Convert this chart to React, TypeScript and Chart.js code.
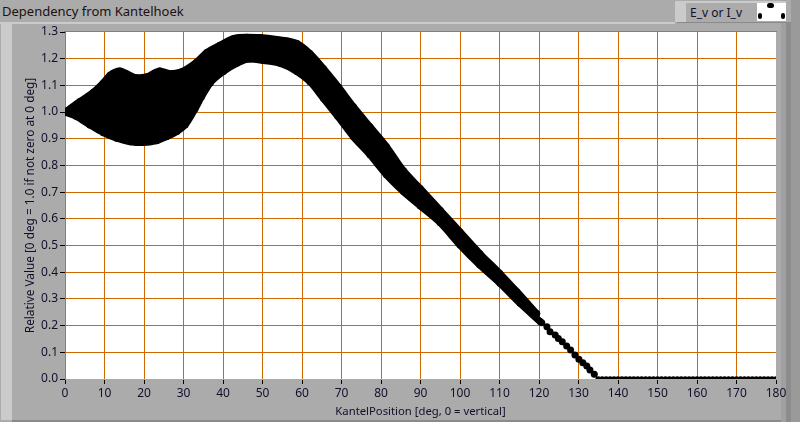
import React, { useEffect, useRef } from "react";
import { Chart, registerables } from "chart.js";

Chart.register(...registerables);

const titleText = "Dependency from Kantelhoek";
const legendText = "E_v or I_v";
const xAxisTitle = "KantelPosition [deg, 0 = vertical]";
const yAxisTitle = "Relative Value [0 deg = 1.0 if not zero at 0 deg]";

const upperDeg = [0, 3.8, 7.2, 9.7, 11.4, 13.9, 15.6, 18.1, 20.7, 24, 26.6, 29.1, 33.3, 35.9, 39.2, 42.6, 46, 49.4, 53.6, 58.7, 62, 65.4, 69.2, 73, 77.2, 81.4, 85.7, 89.9, 95, 100, 105, 110.1, 114.4, 119.4];
const upperVal = [1.0, 1.04, 1.074, 1.109, 1.138, 1.154, 1.144, 1.129, 1.132, 1.154, 1.144, 1.149, 1.187, 1.223, 1.25, 1.275, 1.28, 1.279, 1.272, 1.257, 1.219, 1.163, 1.094, 1.02, 0.945, 0.87, 0.78, 0.714, 0.632, 0.551, 0.47, 0.395, 0.327, 0.245];
const lowerDeg = [0, 2.96, 6.3, 9.7, 13.1, 16.5, 19.8, 23.2, 25.7, 28.3, 30.4, 32.9, 34.6, 36.7, 40.1, 43.5, 46.8, 50.2, 54.4, 58.7, 62, 65.4, 69, 73, 77.2, 81.4, 85.7, 89.9, 95, 100, 105, 110.1, 115.2, 120.3];
const lowerVal = [1.0, 0.983, 0.952, 0.923, 0.902, 0.889, 0.886, 0.893, 0.908, 0.927, 0.952, 1.012, 1.058, 1.108, 1.152, 1.183, 1.199, 1.193, 1.183, 1.152, 1.114, 1.052, 0.985, 0.908, 0.84, 0.765, 0.702, 0.649, 0.585, 0.502, 0.427, 0.359, 0.284, 0.215];
const endDeg = [120.7, 122, 122.8, 124.1, 124.9, 125.9, 127, 128, 129.1, 130.1, 131.1, 132.1, 132.9, 134];
const endVal = [0.211, 0.196, 0.177, 0.165, 0.152, 0.14, 0.124, 0.109, 0.09, 0.074, 0.061, 0.049, 0.034, 0.018];
const zeroDeg = [135, 136, 137, 138, 139, 140, 141, 142, 143, 144, 145, 146, 147, 148, 149, 150, 151, 152, 153, 154, 155, 156, 157, 158, 159, 160, 161, 162, 163, 164, 165, 166, 167, 168, 169, 170, 171, 172, 173, 174, 175, 176, 177, 178, 179, 180];

const xy = (xs: number[], ys: number[]) => xs.map((x, i) => ({ x, y: ys[i] }));
const uiFont = "'Noto Sans', sans-serif";
const orange = "#cc6a00";
const inkColor = "#10102a";

// The reference has no orange line on the plot's outer edges.
const innerGrid = (max: number) => (ctx: any) => {
  const v = ctx.tick ? ctx.tick.value : 0;
  return v <= 0 || v >= max - 1e-6 ? "rgba(0,0,0,0)" : orange;
};

function Box(p: { l: number; t: number; w: number; h: number; c: string; r?: number }) {
  return <div style={{ position: "absolute", left: p.l, top: p.t, width: p.w, height: p.h, background: p.c, borderRadius: p.r }} />;
}

export default function App() {
  const ref = useRef<HTMLCanvasElement>(null);
  useEffect(() => {
    document.body.style.margin = "0";
    const band = { borderColor: "#000", backgroundColor: "#000", borderWidth: 7, borderCapStyle: "round", borderJoinStyle: "round", pointRadius: 3.5, pointBackgroundColor: "#000", pointBorderWidth: 0, cubicInterpolationMode: "monotone" };
    const chart = new Chart(ref.current!, {
      type: "line",
      data: {
        datasets: [
          { label: "upper", data: xy(upperDeg, upperVal), ...band, fill: 1 },
          { label: "lower", data: xy(lowerDeg, lowerVal), ...band, fill: false },
          { label: "end", data: xy(endDeg, endVal), showLine: false, pointRadius: 3.5, pointBackgroundColor: "#000", pointBorderWidth: 0 },
          { label: "zero", data: zeroDeg.map((x) => ({ x, y: 0 })), showLine: false, pointRadius: 2.8, pointBackgroundColor: "#000", pointBorderWidth: 0 },
        ],
      },
      options: {
        animation: false,
        responsive: false,
        layout: { padding: { top: 32, right: 24, left: 0, bottom: 0 } },
        plugins: { legend: { display: false }, title: { display: false }, tooltip: { enabled: false } },
        scales: {
          x: {
            type: "linear",
            min: 0,
            max: 180,
            afterFit: (s: any) => { s.height = 43; },
            ticks: { stepSize: 10, autoSkip: false, maxRotation: 0, padding: 2, color: inkColor, font: { family: uiFont, size: 12 } },
            grid: { color: innerGrid(180), lineWidth: 1, tickColor: "#000", tickLength: 5 },
            border: { color: "#ababab" },
            title: { display: true, text: xAxisTitle, color: inkColor, font: { family: uiFont, size: 11.3 }, padding: { top: 0, bottom: 3 } },
          },
          y: {
            type: "linear",
            min: 0,
            max: 1.3,
            afterFit: (s: any) => { s.width = 65; },
            ticks: { stepSize: 0.1, padding: 2, color: inkColor, font: { family: uiFont, size: 12 }, callback: (v: any) => Number(v).toFixed(1) },
            grid: { color: innerGrid(1.3), lineWidth: 1, tickColor: "#000", tickLength: 5 },
            border: { color: "#808080" },
            title: { display: true, text: yAxisTitle, color: inkColor, font: { family: uiFont, size: 11.8 }, padding: { top: 24, bottom: 0 } },
          },
        },
      },
    } as any);
    return () => chart.destroy();
  }, []);

  return (
    <div style={{ position: "fixed", left: 0, top: 0, width: 800, height: 422, overflow: "hidden", background: "#ababab", fontFamily: uiFont }}>
      <Box l={0} t={22} w={675} h={2} c="#cbcbcb" />
      <Box l={1} t={24} w={11} h={396} c="#cbcbcb" />
      <Box l={12} t={420} w={788} h={2} c="#8a8a8a" />
      <Box l={781} t={0} w={5} h={422} c="#a0a0a0" />
      <Box l={786} t={22} w={5} h={400} c="#8c8c8c" />
      <Box l={791} t={0} w={9} h={422} c="#9a9a9a" />
      <Box l={675} t={1} w={111} h={2} c="#cbcbcb" />
      <Box l={675} t={1} w={11} h={21} c="#cbcbcb" />
      <Box l={686} t={3} w={100} h={19} c="#ababab" />
      <Box l={677} t={22} w={109} h={1} c="#8a8a8a" />
      <Box l={757} t={3} w={29} h={18} c="#fff" />
      <div style={{ position: "absolute", left: 757, top: 3, width: 29, height: 18, overflow: "hidden" }}>
        <Box l={10} t={0} w={7} h={5} c="#000" r={3} />
        <Box l={1} t={10} w={4} h={6} c="#000" r={2} />
        <Box l={24} t={10} w={4} h={6} c="#000" r={2} />
      </div>
      <div style={{ position: "absolute", left: 690, top: 4, fontSize: 12, lineHeight: "18px", color: inkColor, whiteSpace: "nowrap" }}>{legendText}</div>
      <div style={{ position: "absolute", left: 2, top: 1, fontSize: 13, lineHeight: "20px", color: "#201010", whiteSpace: "nowrap" }}>{titleText}</div>
      <Box l={64} t={31} w={713} h={1} c="#808080" />
      <Box l={65} t={32} w={711} h={347} c="#fff" />
      <canvas ref={ref} width={800} height={422} style={{ position: "absolute", left: 0, top: 0, display: "block" }} />
    </div>
  );
}
